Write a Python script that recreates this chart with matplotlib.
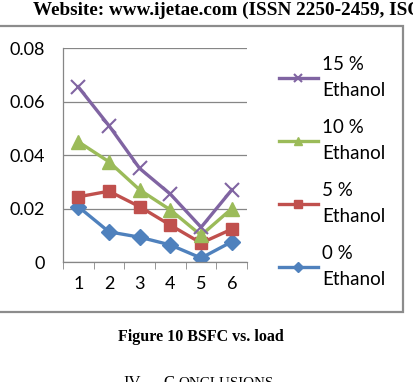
import matplotlib.pyplot as plt
import matplotlib.patches as patches
import numpy as np

# BSFC vs load for the ethanol blends
loads = [1, 2, 3, 4, 5, 6]
eth_0 = [0.0207, 0.0113, 0.0093, 0.0064, 0.0015, 0.0076]
eth_5 = [0.0244, 0.0265, 0.0207, 0.0138, 0.0071, 0.0123]
eth_10 = [0.0450, 0.0375, 0.0270, 0.0195, 0.0100, 0.0200]
eth_15 = [0.0655, 0.0510, 0.0350, 0.0254, 0.0130, 0.0270]
labels = ['0 %\nEthanol', '5 %\nEthanol', '10 %\nEthanol', '15 %\nEthanol']
y_ticks = [0, 0.02, 0.04, 0.06, 0.08]
y_tick_labels = ['0', '0.02', '0.04', '0.06', '0.08']

fig = plt.figure(figsize=(4.14, 3.82), dpi=100)
fig.patch.set_facecolor('white')

# page frame around the chart
frame = patches.Rectangle((-0.01, 0.183), 0.983, 0.748, transform=fig.transFigure,
                          fill=False, edgecolor='#8c8c8c', linewidth=1.6)
fig.patches.append(frame)

ax = fig.add_axes([0.152, 0.314, 0.445, 0.56])
font = 'Lato'

series = [
    (eth_0, '#4F81BD', 'D', 8),
    (eth_5, '#C0504D', 's', 9),
    (eth_10, '#9BBB59', '^', 10),
    (eth_15, '#8064A2', 'x', 10),
]
handles = []
for vals, col, mk, ms in series:
    kw = dict(markeredgewidth=1.5) if mk == 'x' else dict(markeredgecolor=col)
    h, = ax.plot(loads, vals, color=col, linewidth=2.4, marker=mk, markersize=ms, **kw)
    handles.append(h)

ax.set_xlim(0.5, 6.5)
ax.set_ylim(0, 0.08)
ax.set_yticks(y_ticks)
ax.set_yticklabels(y_tick_labels, fontsize=13, family=font)
ax.set_xticks(loads)
ax.set_xticklabels([str(v) for v in loads], fontsize=13, family=font)
ax.set_xticks(np.arange(0.5, 7, 1), minor=True)
ax.tick_params(axis='x', which='major', length=0, pad=10)
ax.tick_params(axis='x', which='minor', length=5, color='#868686', direction='out')
ax.tick_params(axis='y', length=0, pad=13)
ax.grid(axis='y', color='#868686', linewidth=0.9)
ax.set_axisbelow(True)
for s in ['top', 'right']:
    ax.spines[s].set_visible(False)
for s in ['left', 'bottom']:
    ax.spines[s].set_color('#868686')
    ax.spines[s].set_linewidth(0.9)

leg = fig.legend(handles[::-1], labels[::-1], loc='upper left',
                 bbox_to_anchor=(0.655, 0.872), frameon=False,
                 prop={'family': font, 'size': 13.5}, handlelength=2.1,
                 labelspacing=1.05, handletextpad=0.2, markerscale=0.6,
                 borderaxespad=0)
for t in leg.get_texts():
    t.set_linespacing(1.65)

fig.text(0.08, 0.961, 'Website: www.ijetae.com (ISSN 2250-2459, ISO 9001:2008 Certified Journal',
         family='Liberation Serif', weight='bold', fontsize=13.8, va='baseline')
fig.text(0.485, 0.117, 'Figure 10 BSFC vs. load', family='Liberation Serif',
         weight='bold', fontsize=11.5, ha='center', va='center')
fig.text(0.297, -0.012, 'IV.', family='Liberation Serif', fontsize=12, va='baseline')
fig.text(0.394, -0.012, 'C', family='Liberation Serif', fontsize=12, va='baseline')
fig.text(0.43, -0.012, 'ONCLUSIONS', family='Liberation Serif', fontsize=10.8, va='baseline')

fig.savefig('out.png', dpi=100)
